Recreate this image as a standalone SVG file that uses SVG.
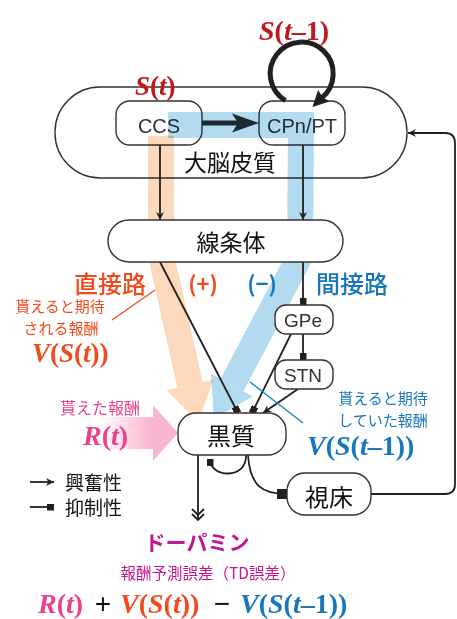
<svg xmlns="http://www.w3.org/2000/svg" width="457" height="619" viewBox="0 0 457 619">
<defs>
<style>
.node{fill:#fff;stroke:#333;stroke-width:1.4}
.lat{font-family:"Liberation Sans",Arial,sans-serif;fill:#333;text-anchor:middle}
.jp{font-family:"Noto Sans CJK JP","Noto Sans",sans-serif}
.mid{text-anchor:middle}
.math{font-family:"Liberation Serif","Times New Roman",serif;font-weight:bold}
.it{font-style:italic}
.ln{fill:none;stroke:#231f20;stroke-width:1.8}
.exc{marker-end:url(#arr)}
.inh{marker-end:url(#sq)}
.red{fill:#c3161c}
.org{fill:#f04a1e}
.blu{fill:#1677bf}
.pnk{fill:#ec3f8c}
.mag{fill:#c2168e}
.band{mix-blend-mode:multiply}
</style>
<marker id="arr" viewBox="0 0 10 10" refX="10" refY="5" markerWidth="9" markerHeight="8" markerUnits="userSpaceOnUse" orient="auto">
<path d="M0,0 L10,5 L0,10 L3,5 z" fill="#231f20"/>
</marker>
<marker id="sq" viewBox="0 0 10 10" refX="10" refY="5" markerWidth="7" markerHeight="7" markerUnits="userSpaceOnUse" orient="auto">
<rect x="0" y="0" width="10" height="10" fill="#231f20"/>
</marker>
<marker id="sqb" viewBox="0 0 10 10" refX="10" refY="5" markerWidth="10" markerHeight="10" markerUnits="userSpaceOnUse" orient="auto">
<rect x="0" y="0" width="10" height="10" fill="#231f20"/>
</marker>
<linearGradient id="pg" x1="100" y1="0" x2="150" y2="0" gradientUnits="userSpaceOnUse">
<stop offset="0" stop-color="#f9b6d0" stop-opacity="0"/>
<stop offset="1" stop-color="#f9b6d0" stop-opacity="1"/>
</linearGradient>
</defs>
<rect width="457" height="619" fill="#fff"/>

<g id="cortex">
<rect class="node" x="55" y="87" width="352" height="91" rx="45" stroke-width="1.2"/>
<text class="jp mid" x="230" y="171" font-size="23" fill="#111">大脳皮質</text>
</g>
<g id="ccs">
<rect class="node" x="116" y="101" width="86" height="44" rx="14"/>
<text class="lat" x="159" y="133" font-size="20">CCS</text>
</g>
<g id="cpn">
<rect class="node" x="259" y="101" width="86" height="44" rx="14"/>
<text class="lat" x="302" y="133" font-size="20">CPn/PT</text>
</g>

<g id="bands">
<g class="band">
<polyline points="161,136 161,255 190,385" fill="none" stroke="#fcd8bc" stroke-width="26"/>
<polygon points="213.4,379.8 198.3,422.1 166.6,390.2" fill="#fcd8bc"/>
</g>
<g class="band">
<polyline points="168,125 301,125 300,256 232,385" fill="none" stroke="#b3dbef" stroke-width="26"/>
<polygon points="253.1,396.5 213.9,418.4 210.9,373.5" fill="#b3dbef"/>
</g>
<g class="band">
<polygon points="100,417 153,417 153,405 178,433 153,461 153,449 100,449" fill="url(#pg)"/>
</g>
</g>

<g id="connectors">
<line x1="202" y1="123" x2="240" y2="123" stroke="#1e2a30" stroke-width="5"/>
<polygon points="232,113.5 259,123 232,132.5 238,123" fill="#1e2a30"/>
<path d="M285.5,100.6 A31.5,31.5 0 1 1 321.7,97.9" fill="none" stroke="#231f20" stroke-width="5"/>
<polygon points="329.5,101.5 312.5,107.1 318.1,90.1 322.5,97" fill="#231f20"/>
<line class="ln exc" x1="160" y1="145" x2="160" y2="220"/>
<line class="ln exc" x1="303" y1="145" x2="303" y2="220"/>
<line class="ln inh" x1="160" y1="262" x2="238" y2="413"/>
<line class="ln inh" x1="303" y1="262" x2="303" y2="305"/>
<line class="ln inh" x1="303" y1="334" x2="303" y2="360"/>
<line class="ln inh" x1="291" y1="334" x2="252" y2="413"/>
<line class="ln exc" x1="298" y1="389" x2="263" y2="413"/>
<path class="ln inh" d="M246,455 C247,480 210,478 210,459"/>
<path class="ln" d="M248,455 C250,486 262,494 287,494" stroke-width="2.6" marker-end="url(#sqb)"/>
<line class="ln" x1="198" y1="455" x2="198" y2="520"/>
<polyline class="ln" points="192,509 198,515 204,509" stroke-width="1.5"/>
<polyline class="ln" points="192,514 198,520 204,514" stroke-width="1.5"/>
<path class="ln exc" d="M371,494 L445,494 Q455,494 455,484 L455,143 Q455,133 445,133 L408,133"/>
<line class="ln exc" x1="30" y1="482" x2="54" y2="482"/>
<line class="ln inh" x1="30" y1="507" x2="54" y2="507"/>
<line x1="112" y1="320" x2="155" y2="290" stroke="#f04a1e" stroke-width="1.3"/>
<line x1="250" y1="382" x2="303" y2="423" stroke="#1a88c9" stroke-width="1.5"/>
</g>

<g id="striatum">
<rect class="node" x="108" y="220" width="235" height="42" rx="21"/>
<text class="jp mid" x="231" y="251" font-size="23" fill="#111">線条体</text>
</g>
<g id="gpe">
<rect class="node" x="275" y="305" width="58" height="29" rx="11"/>
<text class="lat" x="303" y="327" font-size="19">GPe</text>
</g>
<g id="stn">
<rect class="node" x="275" y="360" width="58" height="29" rx="11"/>
<text class="lat" x="303" y="382" font-size="19">STN</text>
</g>
<g id="sn">
<rect class="node" x="178" y="413" width="108" height="42" rx="18"/>
<text class="jp mid" x="231" y="445" font-size="24" fill="#111">黒質</text>
</g>
<g id="thalamus">
<rect class="node" x="287" y="473" width="84" height="42" rx="18"/>
<text class="jp mid" x="329" y="506" font-size="24" fill="#111">視床</text>
</g>

<g id="labels">
<text class="math red" x="135" y="95" font-size="27"><tspan class="it">S</tspan>(<tspan class="it">t</tspan>)</text>
<text class="math red" x="259" y="40" font-size="28"><tspan class="it">S</tspan>(<tspan class="it">t</tspan>–1)</text>
<text class="jp mid org" x="110" y="293" font-size="24" font-weight="500">直接路</text>
<text class="jp mid org" x="203" y="292" font-size="22" font-weight="bold">(+)</text>
<text class="jp mid blu" x="262" y="292" font-size="22" font-weight="bold">(−)</text>
<text class="jp mid blu" x="352" y="293" font-size="24" font-weight="500">間接路</text>
<text class="jp mid org" x="60" y="312" font-size="15">貰えると期待</text>
<text class="jp mid org" x="61" y="334" font-size="15">される報酬</text>
<text class="math org" x="32" y="362" font-size="27"><tspan class="it">V</tspan>(<tspan class="it">S</tspan>(<tspan class="it">t</tspan>))</text>
<text class="jp mid pnk" x="100" y="414" font-size="16">貰えた報酬</text>
<text class="math pnk" x="83" y="445" font-size="28"><tspan class="it">R</tspan>(<tspan class="it">t</tspan>)</text>
<text class="jp mid blu" x="383" y="404" font-size="15">貰えると期待</text>
<text class="jp mid blu" x="383" y="426" font-size="15">していた報酬</text>
<text class="math blu" x="307" y="455" font-size="28"><tspan class="it">V</tspan>(<tspan class="it">S</tspan>(<tspan class="it">t</tspan>–1))</text>
<text class="jp" x="65" y="490" font-size="19" fill="#111">興奮性</text>
<text class="jp" x="65" y="515" font-size="19" fill="#111">抑制性</text>
<text class="jp mid mag" x="197" y="550" font-size="21" font-weight="bold">ドーパミン</text>
<text class="jp mid mag" x="208" y="579" font-size="15.5">報酬予測誤差（TD誤差）</text>
<text class="math pnk" x="38" y="613" font-size="28"><tspan class="it">R</tspan>(<tspan class="it">t</tspan>)</text>
<text x="103" y="613" font-size="28" font-family="Liberation Sans, Arial, sans-serif" text-anchor="middle" fill="#111">+</text>
<text class="math org" x="120" y="613" font-size="28"><tspan class="it">V</tspan>(<tspan class="it">S</tspan>(<tspan class="it">t</tspan>))</text>
<text x="222" y="613" font-size="28" font-family="Liberation Sans, Arial, sans-serif" text-anchor="middle" fill="#111">−</text>
<text class="math blu" x="240" y="613" font-size="28"><tspan class="it">V</tspan>(<tspan class="it">S</tspan>(<tspan class="it">t</tspan>–1))</text>
</g>
</svg>
